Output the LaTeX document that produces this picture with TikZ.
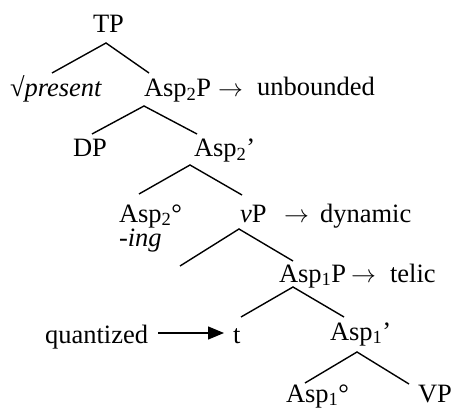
\documentclass[tikz,border=0pt]{standalone}
\usepackage{fontspec}
\setmainfont{Liberation Serif}[ItalicFont={Liberation Serif Italic},BoldFont={Liberation Serif Bold}]
\usetikzlibrary{arrows.meta}
\begin{document}
\begin{tikzpicture}[x=1pt,y=-1pt,
  lbl/.style={anchor=base west,inner sep=0pt,outer sep=0pt,font=\fontsize{26.5}{30}\selectfont},
  branch/.style={line width=1.4pt},
  qarrow/.style={line width=1.4pt,-{Triangle[length=16pt,width=13pt]}}]
\useasboundingbox (0,0) rectangle (455,409);
% labels
\node[lbl] (TP) at (93,33) {TP};
\node[lbl] (pres) at (10,97) {√\textit{present}};
\node[lbl] (asp2p) at (144,97) {Asp\textsubscript{2}P};
\node[lbl] (ar1) at (218,97) {$\rightarrow$};
\node[lbl] (unb) at (257,96) {unbounded};
\node[lbl] (DP) at (73,157) {DP};
\node[lbl] (asp2bar) at (194,157) {Asp\textsubscript{2}’};
\node[lbl] (asp2h) at (119,222) {Asp\textsubscript{2}°};
\node[lbl] (ing) at (119,246) {\textit{-ing}};
\node[lbl] (vP) at (240,222) {\textit{v}P};
\node[lbl] (ar2) at (284,222) {$\rightarrow$};
\node[lbl] (dyn) at (320,222) {dynamic};
\node[lbl] (asp1p) at (279,282) {Asp\textsubscript{1}P};
\node[lbl] (ar3) at (351,282) {$\rightarrow$};
\node[lbl] (tel) at (390,282) {telic};
\node[lbl] (quant) at (45,343) {quantized};
\node[lbl] (t) at (233,343) {t};
\node[lbl] (asp1bar) at (330,340) {Asp\textsubscript{1}’};
\node[lbl] (asp1h) at (286,402) {Asp\textsubscript{1}°};
\node[lbl] (VP) at (418,402) {VP};
% branch points
\coordinate (TPb) at (106,43);
\coordinate (presT) at (52,73);
\coordinate (asp2pT) at (149,73);
\coordinate (asp2pB) at (144,106);
\coordinate (DPT) at (92,134);
\coordinate (asp2barT) at (197,134);
\coordinate (asp2barB) at (190,165);
\coordinate (asp2hT) at (139,194);
\coordinate (vPT) at (242,195);
\coordinate (vPB) at (239,229);
\coordinate (emptyT) at (180,266);
\coordinate (asp1pT) at (293,261);
\coordinate (asp1pB) at (293,287);
\coordinate (tT) at (241,317);
\coordinate (asp1barT) at (344,317);
\coordinate (asp1barB) at (357,352);
\coordinate (asp1hT) at (305,383);
\coordinate (VPT) at (409,384);
\draw[branch] (presT) -- (TPb) -- (asp2pT);
\draw[branch] (DPT) -- (asp2pB) -- (asp2barT);
\draw[branch] (asp2hT) -- (asp2barB) -- (vPT);
\draw[branch] (emptyT) -- (vPB) -- (asp1pT);
\draw[branch] (tT) -- (asp1pB) -- (asp1barT);
\draw[branch] (asp1hT) -- (asp1barB) -- (VPT);
\draw[qarrow] ([xshift=10pt,yshift=10pt]quant.base east) -- ([xshift=-9pt,yshift=10pt]t.base west);
\end{tikzpicture}
\end{document}
